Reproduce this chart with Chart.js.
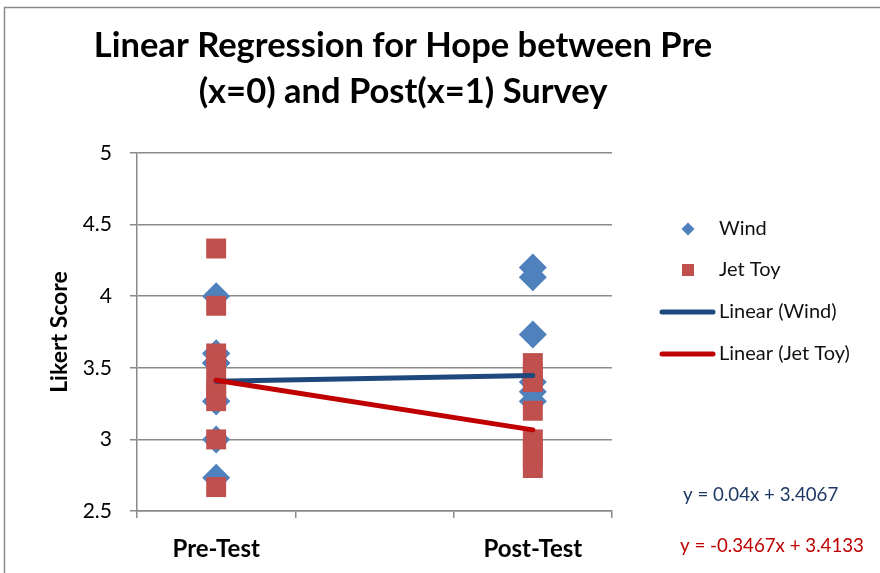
<!DOCTYPE html>
<html>
<head>
<meta charset="utf-8">
<script src="https://cdn.jsdelivr.net/npm/chart.js@4.4.1/dist/chart.umd.min.js"></script>
<style>
  html, body { margin: 0; padding: 0; background: #fff; }
  #wrap { width: 880px; height: 573px; position: relative; }
</style>
</head>
<body>
<div id="wrap"><canvas id="c" width="880" height="573"></canvas></div>
<script>
// ---- data ----
const categories = ['Pre-Test', 'Post-Test'];          // x = 0, x = 1
const windPre   = [4.0, 3.6, 3.6, 3.533, 3.533, 3.533, 3.267, 3.267, 3.0, 2.733];
const windPost  = [4.2, 4.133, 3.733, 3.4, 3.333, 3.267];
const jetPre    = [4.333, 3.933, 3.6, 3.533, 3.4, 3.333, 3.267, 3.0, 2.667];
const jetPost   = [3.533, 3.467, 3.4, 3.2, 3.0, 2.933, 2.867, 2.8];
const trendSlope     = [0.04, -0.3467];   // Wind, Jet Toy
const trendIntercept = [3.4067, 3.4133];  // Wind, Jet Toy
const yTicks = [2.5, 3, 3.5, 4, 4.5, 5];
const seriesNames = ['Wind', 'Jet Toy', 'Linear (Wind)', 'Linear (Jet Toy)'];
const equations = ['y = 0.04x + 3.4067', 'y = -0.3467x + 3.4133'];
const titleLines = ['Linear Regression for Hope between Pre', '(x=0) and Post(x=1) Survey'];

const FONT = 'Lato, "Open Sans", sans-serif';
const C_WIND = '#4F81BD', C_JET = '#C0504D', C_LWIND = '#1F497D', C_LJET = '#C00000';

function pts(xv, arr) { return arr.map(v => ({x: xv, y: v})); }
function trend(i) { return [0, 1].map(x => ({x: x, y: trendIntercept[i] + trendSlope[i] * x})); }

const decor = {
  id: 'decor',
  beforeDraw(chart) {
    const ctx = chart.ctx;
    ctx.save();
    ctx.fillStyle = '#fff';
    ctx.fillRect(0, 0, chart.width, chart.height);
    ctx.strokeStyle = '#8a8a8a';
    ctx.lineWidth = 1.5;
    ctx.beginPath();
    ctx.moveTo(4.5, 573); ctx.lineTo(4.5, 7.5); ctx.lineTo(880, 7.5);
    ctx.stroke();
    ctx.restore();
  },
  afterDraw(chart) {
    const ctx = chart.ctx;
    ctx.save();
    // title
    ctx.fillStyle = '#000';
    ctx.textAlign = 'center';
    ctx.textBaseline = 'middle';
    ctx.font = 'bold 34.5px ' + FONT;
    ctx.fillText(titleLines[0], 403, 46);
    ctx.fillText(titleLines[1], 403, 92);
    // legend
    ctx.font = '20px ' + FONT;
    ctx.textAlign = 'left';
    const lx = 688, tx = 719, ys = [229, 270, 312, 354];
    // diamond
    ctx.fillStyle = C_WIND;
    ctx.beginPath();
    ctx.moveTo(lx, ys[0] - 6.5); ctx.lineTo(lx + 6.5, ys[0]); ctx.lineTo(lx, ys[0] + 6.5); ctx.lineTo(lx - 6.5, ys[0]);
    ctx.closePath(); ctx.fill();
    // square
    ctx.fillStyle = C_JET;
    ctx.fillRect(lx - 6, ys[1] - 6, 12, 12);
    // lines
    ctx.lineCap = 'round';
    ctx.lineWidth = 5;
    ctx.strokeStyle = C_LWIND;
    ctx.beginPath(); ctx.moveTo(662, ys[2]); ctx.lineTo(713, ys[2]); ctx.stroke();
    ctx.strokeStyle = C_LJET;
    ctx.beginPath(); ctx.moveTo(662, ys[3]); ctx.lineTo(713, ys[3]); ctx.stroke();
    ctx.fillStyle = '#111';
    seriesNames.forEach((n, i) => ctx.fillText(n, tx, ys[i]));
    // equations
    ctx.font = '18.7px ' + FONT;
    ctx.fillStyle = '#1F3864';
    ctx.fillText(equations[0], 683, 495);
    ctx.fillStyle = C_LJET;
    ctx.fillText(equations[1], 680, 546);
    ctx.restore();
  }
};

new Chart(document.getElementById('c'), {
  type: 'scatter',
  data: {
    datasets: [
      { label: seriesNames[0], data: pts(0, windPre).concat(pts(1, windPost)), order: 4,
        pointStyle: 'rectRot', pointRadius: 14, pointHoverRadius: 14,
        backgroundColor: C_WIND, borderColor: C_WIND, borderWidth: 0 },
      { label: seriesNames[1], data: pts(0, jetPre).concat(pts(1, jetPost)), order: 3,
        pointStyle: 'rect', pointRadius: 14.1, pointHoverRadius: 14.1,
        backgroundColor: C_JET, borderColor: C_JET, borderWidth: 0 },
      { label: seriesNames[2], data: trend(0), order: 2, showLine: true, pointRadius: 0,
        borderColor: C_LWIND, borderWidth: 5, borderCapStyle: 'round' },
      { label: seriesNames[3], data: trend(1), order: 1, showLine: true, pointRadius: 0,
        borderColor: C_LJET, borderWidth: 5, borderCapStyle: 'round' }
    ]
  },
  options: {
    responsive: false,
    animation: false,
    events: [],
    layout: { padding: { top: 153, right: 268, left: 0, bottom: 0 } },
    plugins: { legend: { display: false }, title: { display: false }, tooltip: { enabled: false } },
    scales: {
      x: {
        type: 'linear', min: -0.25, max: 1.25,
        afterFit(s) { s.height = 62; },
        afterBuildTicks(s) { s.ticks = [-0.25, 0, 0.25, 0.75, 1, 1.25].map(v => ({value: v})); },
        ticks: {
          autoSkip: false, maxRotation: 0, padding: 17, color: '#000',
          font: { family: FONT, size: 24, weight: 'bold' },
          callback: v => (v === 0 ? categories[0] : v === 1 ? categories[1] : '')
        },
        grid: {
          drawOnChartArea: false, drawTicks: true, tickLength: 7, lineWidth: 1.5,
          color: c => (c.tick && (c.tick.value === 0 || c.tick.value === 1)) ? 'rgba(0,0,0,0)' : '#8a8a8a'
        },
        border: { color: '#8a8a8a', width: 1.5 }
      },
      y: {
        min: 2.5, max: 5,
        afterFit(s) { s.width = 137; },
        afterBuildTicks(s) { s.ticks = yTicks.map(v => ({value: v})); },
        ticks: { padding: 18, color: '#000', font: { family: FONT, size: 21 },
                 callback: v => String(v) },
        grid: { color: '#8a8a8a', lineWidth: 1.5, tickLength: 7 },
        border: { color: '#8a8a8a', width: 1.5 },
        title: { display: true, text: 'Likert Score', color: '#000',
                 font: { family: FONT, size: 23, weight: 'bold' }, padding: { top: 46, bottom: 0 } }
      }
    }
  },
  plugins: [decor]
});
</script>
</body>
</html>
